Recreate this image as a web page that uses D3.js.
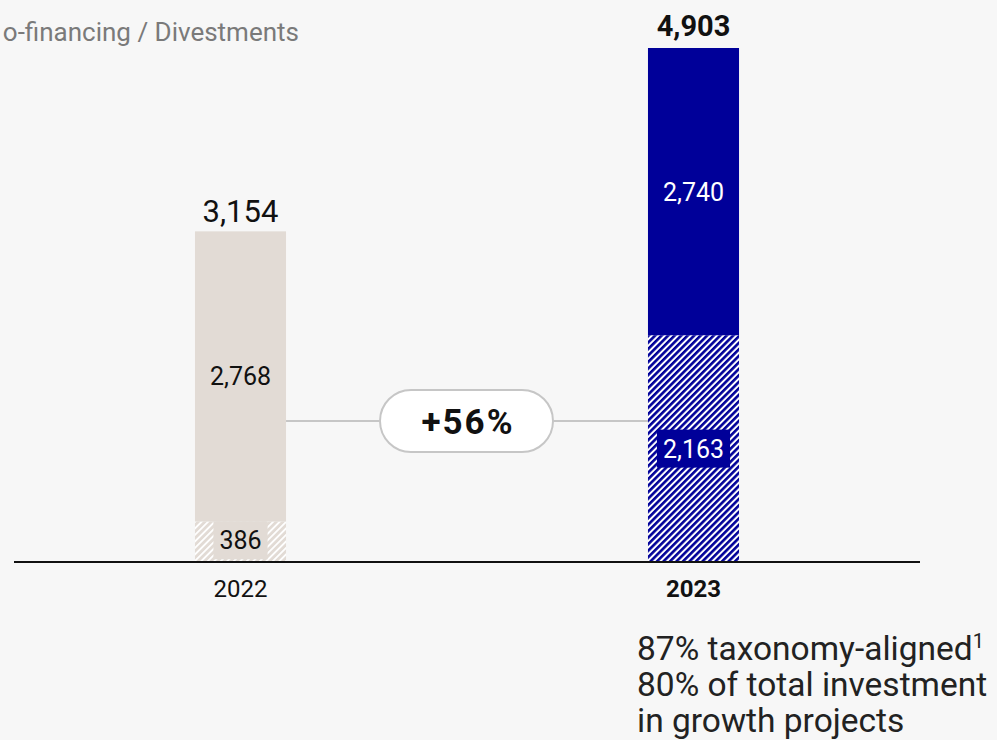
<!DOCTYPE html>
<meta charset="utf-8">
<style>
body { margin: 0; background: #f7f7f7; }
svg { display: block; font-family: Roboto, "DejaVu Sans", sans-serif; }
</style>
<svg width="997" height="740"></svg>
<script src="https://d3js.org/d3.v7.min.js"></script>
<script>

var years = ["2022", "2023"],
    baseValues = [386, 2163],      // hatched part
    topValues = [2768, 2740],      // solid part
    totals = [3154, 4903],
    growthLabel = "+56%",
    titleText = "o-financing / Divestments",
    noteLines = ["87% taxonomy-aligned", "80% of total investment", "in growth projects"];

var colors = ["#e2dbd5", "#000099"];

var svg = d3.select("svg"),
    baseline = 562;

var x = d3.scaleBand()
    .domain(years)
    .range([14, 920])
    .paddingInner(0.799)
    .paddingOuter(0.3995);

var y = d3.scaleLinear()
    .domain([0, 4903])
    .range([baseline, 48]);

// hatch patterns
var defs = svg.append("defs");
function hatch(id, bg, fg, w) {
  var p = defs.append("pattern")
      .attr("id", id)
      .attr("patternUnits", "userSpaceOnUse")
      .attr("width", 4.6).attr("height", 4.6)
      .attr("patternTransform", "rotate(45)");
  p.append("rect").attr("width", 4.6).attr("height", 4.6).attr("fill", bg);
  p.append("rect").attr("width", w).attr("height", 4.6).attr("fill", fg);
}
hatch("hatch0", colors[0], "#ffffff", 1.8);
hatch("hatch1", "#ffffff", colors[1], 2.6);

// title (cut at left edge)
svg.append("text")
    .attr("x", 299).attr("y", 41)
    .attr("text-anchor", "end")
    .attr("fill", "#7a7a7a")
    .style("font-size", "26px")
    .text(titleText);

// connector + pill
var c0 = x(years[0]) + x.bandwidth(), c1 = x(years[1]);
svg.append("line")
    .attr("x1", c0).attr("x2", c1)
    .attr("y1", 421).attr("y2", 421)
    .attr("stroke", "#c6c6c6").attr("stroke-width", 2);

svg.append("rect")
    .attr("x", 380).attr("y", 390)
    .attr("width", 173).attr("height", 62)
    .attr("rx", 31)
    .attr("fill", "#fff")
    .attr("stroke", "#c6c6c6").attr("stroke-width", 2);

svg.append("text")
    .attr("x", 468).attr("y", 434)
    .attr("text-anchor", "middle")
    .style("font-size", "35px").style("font-weight", "bold")
    .style("letter-spacing", "2px")
    .attr("fill", "#111")
    .text(growthLabel);

var bars = svg.append("g").selectAll("g")
    .data(years)
    .enter().append("g");

// hatched base
bars.append("rect")
    .attr("x", function(d) { return x(d); })
    .attr("width", x.bandwidth())
    .attr("y", function(d, i) { return y(baseValues[i]); })
    .attr("height", function(d, i) { return baseline - y(baseValues[i]); })
    .attr("fill", function(d, i) { return "url(#hatch" + i + ")"; });

// solid top
bars.append("rect")
    .attr("x", function(d) { return x(d); })
    .attr("width", x.bandwidth())
    .attr("y", function(d, i) { return y(totals[i]); })
    .attr("height", function(d, i) { return y(baseValues[i]) - y(totals[i]); })
    .attr("fill", function(d, i) { return colors[i]; });

// top segment labels
bars.append("text")
    .attr("x", function(d) { return x(d) + x.bandwidth() / 2; })
    .attr("y", function(d, i) { return (y(totals[i]) + y(baseValues[i])) / 2 + 9; })
    .attr("text-anchor", "middle")
    .style("font-size", "25px")
    .attr("fill", function(d, i) { return i ? "#fff" : "#111"; })
    .text(function(d, i) { return d3.format(",")(topValues[i]); });

// base segment labels in boxes
bars.each(function(d, i) {
  var g = d3.select(this),
      cx = x(d) + x.bandwidth() / 2,
      cy = (y(baseValues[i]) + baseline) / 2 + (i ? 0 : -1.5);
  var t = g.append("text")
      .attr("x", cx).attr("y", cy + 9)
      .attr("text-anchor", "middle")
      .style("font-size", "25px")
      .attr("fill", i ? "#fff" : "#111")
      .text(d3.format(",")(baseValues[i]));
  var w = t.node().getComputedTextLength() + 12;
  g.insert("rect", "text")
      .attr("x", cx - w / 2).attr("y", cy - 19)
      .attr("width", w).attr("height", 38)
      .attr("fill", colors[i]);
});

// totals
bars.append("text")
    .attr("x", function(d) { return x(d) + x.bandwidth() / 2; })
    .attr("y", function(d, i) { return y(totals[i]) - (i ? 12 : 9); })
    .attr("text-anchor", "middle")
    .style("font-size", function(d, i) { return i ? "29px" : "31px"; })
    .style("font-weight", function(d, i) { return i ? "bold" : "normal"; })
    .attr("fill", "#111")
    .text(function(d, i) { return d3.format(",")(totals[i]); });

// baseline
svg.append("line")
    .attr("x1", 14).attr("x2", 920)
    .attr("y1", baseline).attr("y2", baseline)
    .attr("stroke", "#111").attr("stroke-width", 2);

// x labels
svg.append("g").selectAll("text")
    .data(years)
    .enter().append("text")
    .attr("x", function(d) { return x(d) + x.bandwidth() / 2; })
    .attr("y", 597)
    .attr("text-anchor", "middle")
    .style("font-size", "24px")
    .style("font-weight", function(d, i) { return i ? "bold" : "normal"; })
    .attr("fill", "#111")
    .text(function(d) { return d; });

// notes
var notes = svg.append("text")
    .attr("x", 637).attr("y", 660)
    .style("font-size", "33.5px")
    .attr("fill", "#222");
noteLines.forEach(function(l, i) {
  var ts = notes.append("tspan")
      .attr("x", 637).attr("dy", i ? 36 : 0)
      .text(l);
  if (i === 0) ts.append("tspan").attr("dy", -12).style("font-size", "20px").text("1");
  if (i === 1) ts.attr("dy", 48);
});
</script>
